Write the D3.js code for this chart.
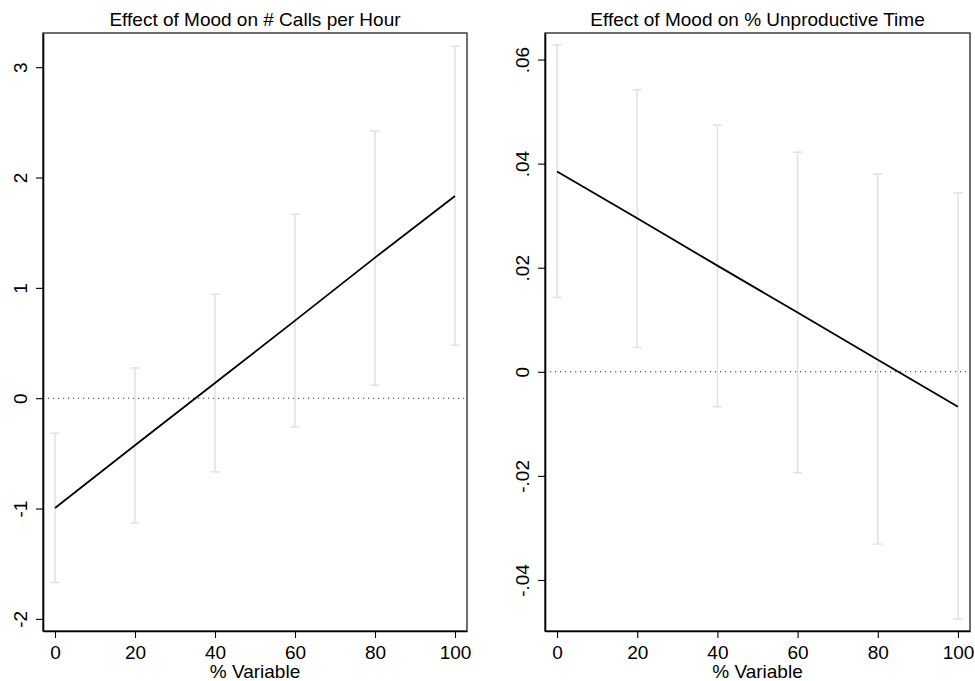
<!DOCTYPE html>
<html>
<head>
<meta charset="utf-8">
<script src="https://cdn.jsdelivr.net/npm/d3@7"></script>
<style>
  body { margin: 0; background: #fff; }
  svg { display: block; font-family: "Liberation Sans", Arial, Helvetica, sans-serif; }
</style>
</head>
<body>
<svg id="chart" width="975" height="681"></svg>
<script>
// values
const xValues = [0, 20, 40, 60, 80, 100];
const xTicks = [0, 20, 40, 60, 80, 100];

const callsEst = [-0.995, -0.426, 0.137, 0.703, 1.274, 1.833];
const callsLo = [-1.67, -1.132, -0.668, -0.26, 0.118, 0.48];
const callsHi = [-0.317, 0.274, 0.942, 1.667, 2.42, 3.19];
const callsTicks = [-2, -1, 0, 1, 2, 3];
const callsTickLabels = ["-2", "-1", "0", "1", "2", "3"];

const unprodEst = [0.0385, 0.0295, 0.0204, 0.0114, 0.0023, -0.0067];
const unprodLo = [0.0143, 0.0047, -0.0067, -0.0194, -0.0331, -0.0475];
const unprodHi = [0.0628, 0.0542, 0.0474, 0.0422, 0.0380, 0.0344];
const unprodTicks = [-0.04, -0.02, 0, 0.02, 0.04, 0.06];
const unprodTickLabels = ["-.04", "-.02", "0", ".02", ".04", ".06"];

const svg = d3.select("#chart");

function drawPanel(cfg) {
    let x = d3.scaleLinear().domain([-3, 103]).range([cfg.left, cfg.right]);
    let y = d3.scaleLinear().domain(cfg.yDomain).range([631, 33]);
    let data = xValues.map((v, i) => ({ x: v, est: cfg.est[i], lo: cfg.lo[i], hi: cfg.hi[i] }));

    let g = svg.append("g");

    // zero reference line
    g.append("line")
        .attr("x1", cfg.left).attr("x2", cfg.right)
        .attr("y1", y(0)).attr("y2", y(0))
        .attr("stroke", "#333")
        .attr("stroke-width", 1.1)
        .attr("stroke-dasharray", "1.2 3.8");

    // confidence intervals
    let ci = g.append("g").attr("stroke", "#e2e2e2").attr("stroke-width", 1.6);
    ci.selectAll(".ci").data(data).join("line")
        .attr("x1", d => x(d.x)).attr("x2", d => x(d.x))
        .attr("y1", d => y(d.lo)).attr("y2", d => y(d.hi));
    ci.selectAll(".caplo").data(data).join("line")
        .attr("x1", d => x(d.x) - 4.5).attr("x2", d => x(d.x) + 4.5)
        .attr("y1", d => y(d.lo)).attr("y2", d => y(d.lo));
    ci.selectAll(".caphi").data(data).join("line")
        .attr("x1", d => x(d.x) - 4.5).attr("x2", d => x(d.x) + 4.5)
        .attr("y1", d => y(d.hi)).attr("y2", d => y(d.hi));

    // marginal effect line
    g.append("path")
        .datum(data)
        .attr("fill", "none")
        .attr("stroke", "#000")
        .attr("stroke-width", 1.8)
        .attr("d", d3.line().x(d => x(d.x)).y(d => y(d.est)));

    // plot frame
    g.append("rect")
        .attr("x", cfg.left).attr("y", 33)
        .attr("width", cfg.right - cfg.left).attr("height", 631 - 33)
        .attr("fill", "none")
        .attr("stroke", "#333")
        .attr("stroke-width", 1.4);

    // x axis
    let xAxis = g.append("g")
        .attr("transform", `translate(0,631)`)
        .call(d3.axisBottom(x).tickValues(xTicks).tickSize(7).tickPadding(8).tickSizeOuter(0));
    xAxis.select(".domain").attr("stroke", "#000").attr("stroke-width", 1.6);
    xAxis.selectAll(".tick line").attr("stroke", "#000").attr("stroke-width", 1.1);
    xAxis.selectAll(".tick text")
        .attr("fill", "#000")
        .attr("font-size", 19);

    // y axis with vertical labels
    let yAxis = g.append("g")
        .attr("transform", `translate(${cfg.left},0)`)
        .call(d3.axisLeft(y).tickValues(cfg.ticks).tickSize(7).tickSizeOuter(0)
            .tickFormat((d, i) => cfg.tickLabels[i]));
    yAxis.select(".domain").attr("stroke", "#000").attr("stroke-width", 1.6);
    yAxis.selectAll(".tick line").attr("stroke", "#000").attr("stroke-width", 1.1);
    yAxis.selectAll(".tick text")
        .attr("fill", "#000")
        .attr("font-size", 19)
        .attr("x", 0)
        .attr("y", -16.5)
        .attr("dy", 0)
        .attr("text-anchor", "middle")
        .attr("transform", "rotate(-90)");

    let cx = (cfg.left + cfg.right) / 2;

    svg.append("text")
        .attr("x", cx).attr("y", 26)
        .attr("text-anchor", "middle")
        .attr("font-size", 19)
        .text(cfg.title);

    svg.append("text")
        .attr("x", cx).attr("y", 678)
        .attr("text-anchor", "middle")
        .attr("font-size", 19)
        .text("% Variable");
}

drawPanel({
    left: 43, right: 467,
    yDomain: [-2.11, 3.31],
    est: callsEst, lo: callsLo, hi: callsHi,
    ticks: callsTicks, tickLabels: callsTickLabels,
    title: "Effect of Mood on # Calls per Hour"
});

drawPanel({
    left: 545, right: 970,
    yDomain: [-0.0498, 0.0651],
    est: unprodEst, lo: unprodLo, hi: unprodHi,
    ticks: unprodTicks, tickLabels: unprodTickLabels,
    title: "Effect of Mood on % Unproductive Time"
});
</script>
</body>
</html>
